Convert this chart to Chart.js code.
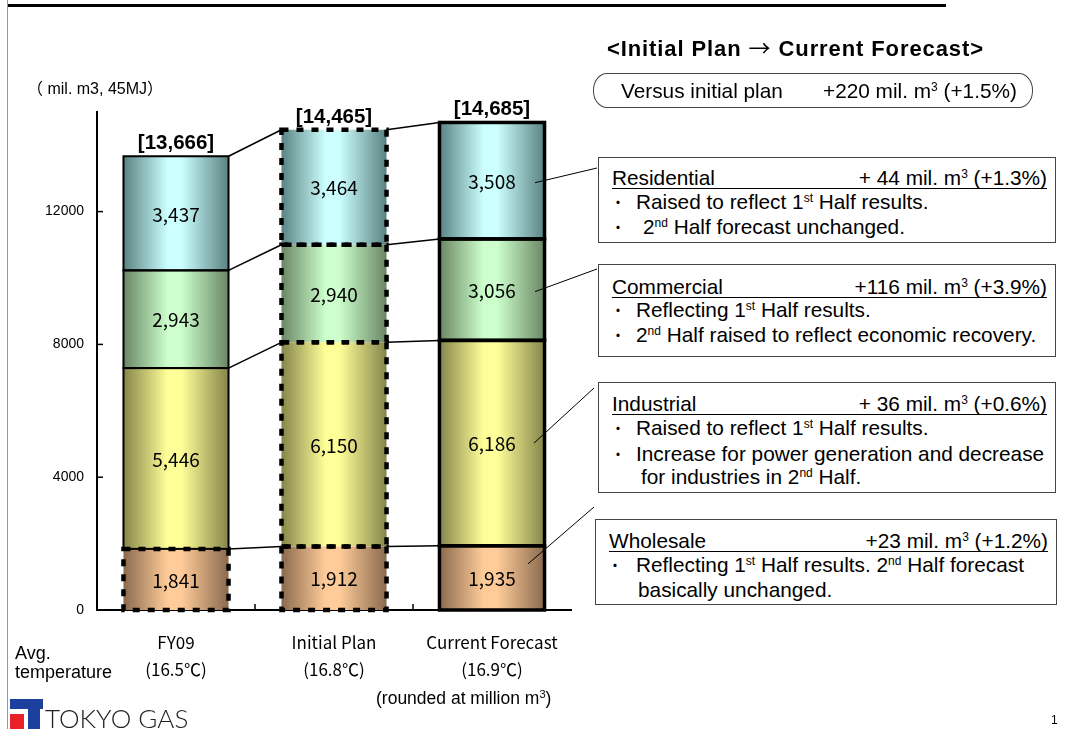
<!DOCTYPE html>
<html>
<head>
<meta charset="utf-8">
<title>Gas sales volume: Initial Plan vs Current Forecast</title>
<script src="https://cdn.jsdelivr.net/npm/chart.js@4.4.1/dist/chart.umd.min.js"></script>
<style>
  body { margin: 0; background: #fff; }
  #page { position: relative; width: 1067px; height: 729px; overflow: hidden; font-family: Arial, "Liberation Sans", sans-serif; color: #000; }
  #chart { position: absolute; left: 0; top: 0; }
  .t { position: absolute; white-space: nowrap; line-height: 1; }
  .box { position: absolute; box-sizing: border-box; border: 1px solid #444; background: #fff; font-size: 20.8px; }
  .box .ln { position: absolute; white-space: nowrap; line-height: 24px; height: 24px; }
  .box .bu { position: absolute; width: 18px; text-align: center; line-height: 24px; font-family: "Noto Sans CJK JP", sans-serif; font-size: 15px; }
  .box .hd { position: absolute; left: 13px; right: 8px; display: flex; justify-content: space-between; line-height: 20px; border-bottom: 1px solid #000; white-space: nowrap; }
  sup { font-size: 12px; vertical-align: 7px; line-height: 0; }
</style>
</head>
<body>
<div id="page">
  <canvas id="chart" width="1067" height="729"></canvas>

  <div style="position:absolute;left:8px;top:4px;width:938px;height:3px;background:#000;"></div>
  <div style="position:absolute;left:7px;top:0;width:1px;height:729px;background:#999;"></div>

  <div class="t" style="left:27px;top:81px;font-size:16px;font-family:Arial,'Noto Sans CJK JP',sans-serif;">（ mil. m3, 45MJ）</div>
  <div class="t" style="left:15px;top:644px;font-size:18px;">Avg.</div>
  <div class="t" style="left:15px;top:663px;font-size:18px;">temperature</div>
  <div class="t" style="left:376px;top:690px;font-size:17.5px;">(rounded at million m<sup style="font-size:11px;vertical-align:6px;">3</sup>)</div>

  <div class="t" style="left:607px;top:35px;font-size:22px;font-weight:bold;letter-spacing:0.9px;">&lt;Initial Plan <span style="font-family:'Noto Sans CJK JP',sans-serif;font-weight:normal;">→</span> Current Forecast&gt;</div>

  <div style="position:absolute;left:593px;top:73px;width:440px;height:35px;box-sizing:border-box;border:1px solid #444;border-radius:14px/17px;"></div>
  <div class="t" style="left:621px;top:81px;font-size:20.8px;">Versus initial plan</div>
  <div class="t" style="left:823px;top:81px;font-size:20.8px;">+220 mil. m<sup>3</sup> (+1.5%)</div>

  <div class="box" style="left:598px;top:157px;width:458px;height:86px;">
    <div class="hd" style="top:10px;"><span>Residential</span><span>+ 44 mil. m<sup>3</sup> (+1.3%)</span></div>
    <div class="bu" style="left:10px;top:32px;">・</div>
    <div class="ln" style="left:37px;top:32px;">Raised to reflect 1<sup>st</sup> Half results.</div>
    <div class="bu" style="left:10px;top:57px;">・</div>
    <div class="ln" style="left:44px;top:57px;">2<sup>nd</sup> Half forecast unchanged.</div>
  </div>

  <div class="box" style="left:598px;top:264px;width:458px;height:93px;">
    <div class="hd" style="top:12px;"><span>Commercial</span><span>+116 mil. m<sup>3</sup> (+3.9%)</span></div>
    <div class="bu" style="left:10px;top:33px;">・</div>
    <div class="ln" style="left:37px;top:33px;">Reflecting 1<sup>st</sup> Half results.</div>
    <div class="bu" style="left:10px;top:58px;">・</div>
    <div class="ln" style="left:37px;top:58px;">2<sup>nd</sup> Half raised to reflect economic recovery.</div>
  </div>

  <div class="box" style="left:598px;top:382px;width:458px;height:111px;">
    <div class="hd" style="top:11px;"><span>Industrial</span><span>+ 36 mil. m<sup>3</sup> (+0.6%)</span></div>
    <div class="bu" style="left:10px;top:33px;">・</div>
    <div class="ln" style="left:37px;top:33px;">Raised to reflect 1<sup>st</sup> Half results.</div>
    <div class="bu" style="left:10px;top:59px;">・</div>
    <div class="ln" style="left:37px;top:59px;">Increase for power generation and decrease</div>
    <div class="ln" style="left:42px;top:82px;">for industries in 2<sup>nd</sup> Half.</div>
  </div>

  <div class="box" style="left:595px;top:519px;width:462px;height:86px;">
    <div class="hd" style="top:11px;"><span>Wholesale</span><span>+23 mil. m<sup>3</sup> (+1.2%)</span></div>
    <div class="bu" style="left:10px;top:33px;">・</div>
    <div class="ln" style="left:40px;top:33px;">Reflecting 1<sup>st</sup> Half results. 2<sup>nd</sup> Half forecast</div>
    <div class="ln" style="left:42px;top:58px;">basically unchanged.</div>
  </div>

  <div style="position:absolute;left:10px;top:699px;width:33px;height:10px;background:#1d3f9e;"></div>
  <div style="position:absolute;left:28px;top:709px;width:12px;height:20px;background:#1d3f9e;"></div>
  <div style="position:absolute;left:10px;top:714px;width:14px;height:15px;background:#e8202a;"></div>
  <div class="t" style="left:45px;top:705px;font-size:26px;font-family:Lato,'Open Sans',sans-serif;font-weight:300;color:#222;">TOKYO GAS</div>

  <div class="t" style="left:1051px;top:714px;font-size:12px;">1</div>
</div>

<script>
// values in mil. m3 (45MJ)
const categories = ['FY09', 'Initial Plan', 'Current Forecast'];
const temperatures = ['16.5℃', '16.8℃', '16.9℃'];
const wholesale = [1841, 1912, 1935];
const industrial = [5446, 6150, 6186];
const commercial = [2943, 2940, 3056];
const residential = [3437, 3464, 3508];
const totals = [13666, 14465, 14685];
const yTicks = [0, 4000, 8000, 12000];

const BAR_PCT = 0.665;

// edge / centre colours of the cylinder-like fills
const shades = {
    Wholesale: ['#8a6a4e', '#ffcc99'],
    Industrial: ['#85854a', '#ffff99'],
    Commercial: ['#6a8664', '#ccffcc'],
    Residential: ['#5a8282', '#ccffff']
};

function cylinder(name) {
    return function (ctx) {
        const chart = ctx.chart;
        const xs = chart.scales.x;
        const area = chart.chartArea;
        const c = shades[name];
        if (!xs || !area) return c[1];
        const cx = xs.getPixelForValue(ctx.dataIndex);
        const w = (area.right - area.left) / categories.length * BAR_PCT;
        const g = chart.ctx.createLinearGradient(cx - w / 2, 0, cx + w / 2, 0);
        g.addColorStop(0, c[0]);
        g.addColorStop(0.42, c[1]);
        g.addColorStop(0.55, c[1]);
        g.addColorStop(1, c[0]);
        return g;
    };
}

// border look per bar: FY09 thin solid with dotted wholesale, plan all dotted, forecast thick solid
function edgeStyle(barIdx, segIdx) {
    if (barIdx === 1 || (barIdx === 0 && segIdx === 0)) return { w: 4.5, dash: [7, 8] };
    if (barIdx === 2) return { w: 3.5, dash: [] };
    return { w: 2, dash: [] };
}

const fmt = n => n.toLocaleString('en-US');

const overlay = {
    id: 'overlay',
    afterDatasetsDraw(chart) {
        const ctx = chart.ctx;
        const metas = chart.data.datasets.map((d, i) => chart.getDatasetMeta(i));
        const ys = chart.scales.y;
        const area = chart.chartArea;
        ctx.save();

        // connectors between bars
        ctx.strokeStyle = '#000';
        ctx.lineWidth = 1.5;
        ctx.setLineDash([]);
        for (let b = 0; b < categories.length - 1; b++) {
            metas.forEach(m => {
                const a = m.data[b], n = m.data[b + 1];
                ctx.beginPath();
                ctx.moveTo(a.x + a.width / 2, a.y);
                ctx.lineTo(n.x - n.width / 2, n.y);
                ctx.stroke();
            });
        }

        // segment borders: solid first, dotted on top
        [false, true].forEach(dashedPass => {
            metas.forEach((m, s) => {
                m.data.forEach((el, b) => {
                    const st = edgeStyle(b, s);
                    if ((st.dash.length > 0) !== dashedPass) return;
                    ctx.lineWidth = st.w;
                    ctx.setLineDash(st.dash);
                    ctx.strokeRect(el.x - el.width / 2, el.y, el.width, el.base - el.y);
                });
            });
        });
        ctx.setLineDash([]);

        // value labels
        ctx.fillStyle = '#000';
        ctx.textAlign = 'center';
        ctx.textBaseline = 'middle';
        ctx.font = '19px "Noto Sans CJK JP", sans-serif';
        metas.forEach((m, s) => {
            m.data.forEach((el, b) => {
                const v = chart.data.datasets[s].data[b];
                ctx.fillText(fmt(v), el.x, (el.y + el.base) / 2 + 1);
            });
        });

        // totals above the bars
        ctx.font = 'bold 20.5px Arial, "Liberation Sans", sans-serif';
        ctx.textBaseline = 'alphabetic';
        const top = metas[metas.length - 1];
        top.data.forEach((el, b) => {
            ctx.fillText('[' + fmt(totals[b]) + ']', el.x, el.y - 7);
        });

        // inward tick marks
        ctx.lineWidth = 1.5;
        yTicks.forEach(v => {
            if (v === 0) return;
            const y = ys.getPixelForValue(v);
            ctx.beginPath();
            ctx.moveTo(area.left, y);
            ctx.lineTo(area.left + 6, y);
            ctx.stroke();
        });
        const step = (area.right - area.left) / categories.length;
        for (let i = 1; i < categories.length; i++) {
            const x = area.left + step * i;
            ctx.beginPath();
            ctx.moveTo(x, area.bottom);
            ctx.lineTo(x, area.bottom - 6);
            ctx.stroke();
        }

        // leader lines from the forecast bar to the notes
        ctx.lineWidth = 1;
        const f = 2;
        const leads = [
            [3, 43, 2, 597, 168],
            [2, 43, 2, 597, 269],
            [1, 42, 0, 594, 388],
            [0, 36, -14, 594, 507]
        ];
        leads.forEach(([s, dx, dy, ex, ey]) => {
            const el = metas[s].data[f];
            const cy = (el.y + el.base) / 2;
            ctx.beginPath();
            ctx.moveTo(el.x + dx, cy + dy);
            ctx.lineTo(ex, ey);
            ctx.stroke();
        });

        ctx.restore();
    }
};

const chart = new Chart(document.getElementById('chart').getContext('2d'), {
    type: 'bar',
    data: {
        labels: categories.map((c, i) => [c, '(' + temperatures[i] + ')']),
        datasets: [
            { label: 'Wholesale', data: wholesale, backgroundColor: cylinder('Wholesale') },
            { label: 'Industrial', data: industrial, backgroundColor: cylinder('Industrial') },
            { label: 'Commercial', data: commercial, backgroundColor: cylinder('Commercial') },
            { label: 'Residential', data: residential, backgroundColor: cylinder('Residential') }
        ]
    },
    options: {
        responsive: false,
        animation: false,
        devicePixelRatio: 1,
        barPercentage: BAR_PCT,
        categoryPercentage: 1,
        borderWidth: 0,
        layout: { padding: { left: 0, right: 496, top: 112, bottom: 0 } },
        plugins: { legend: { display: false }, tooltip: { enabled: false } },
        scales: {
            x: {
                stacked: true,
                grid: { display: false, drawTicks: false },
                border: { display: true, color: '#000', width: 2 },
                ticks: {
                    color: '#000',
                    padding: 19,
                    font: { family: '"Noto Sans CJK JP", sans-serif', size: 17, lineHeight: 1.6 },
                    maxRotation: 0
                },
                afterFit: s => { s.height = 119; }
            },
            y: {
                stacked: true,
                min: 0,
                max: 15000,
                grid: { display: false, drawTicks: false },
                border: { display: true, color: '#000', width: 2 },
                ticks: {
                    padding: 13,
                    color: '#000',
                    font: { family: 'Arial, "Liberation Sans", sans-serif', size: 14 },
                    callback: v => String(v)
                },
                afterBuildTicks: s => { s.ticks = yTicks.map(v => ({ value: v })); },
                afterFit: s => { s.width = 97; }
            }
        }
    },
    plugins: [overlay]
});
</script>
</body>
</html>
